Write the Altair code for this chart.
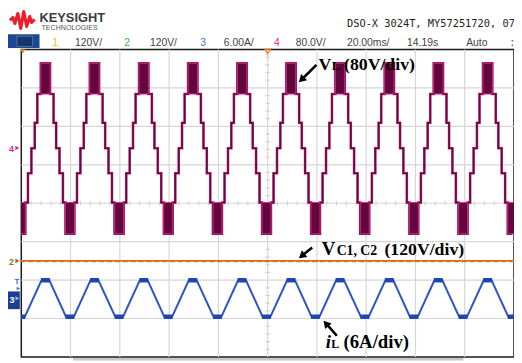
import math
import altair as alt
import pandas as pd

# ---------------- values read from the scope screen ----------------
# graticule: 10 x 20 ms horizontally, 8 divisions vertically
X_DOMAIN_MS = [-100, 100]
Y_DOMAIN_DIV = [-4, 4]
grid_t_ms = [-80, -60, -40, -20, 0, 20, 40, 60, 80]
grid_div = [-3, -2, -1, 0, 1, 2, 3]

# channel 4 : inductor voltage VL (80 V/div), ground marker at +1.43 div
VL_SCALE = 80.0
VL_GROUND_DIV = 1.43
vl_levels_v = [-178, -113, -52, 0, 53, 113, 177]          # seven output levels
vl_peak_ms = [-90.2, -70.3, -50.3, -30.4, -10.4, 9.5, 29.4, 49.4, 69.3, 89.3]
vl_step_ms = [1.9, 3.3, 4.35, 5.7, 7.1, 8.15]             # step edges after each peak
HALF_PERIOD_MS = 9.97

# channel 3 : inductor current iL (6 A/div), ground marker at -2.47 div
IL_SCALE = 6.0
IL_GROUND_DIV = -2.47
il_peak_a = 2.8
il_trough_a = -2.9
il_flat_ms = 1.6

# channels 1 & 2 : capacitor voltages (120 V/div), drawn at -1.5 div
vc1_pos_div = -1.5
vc2_pos_div = -1.51

header_texts = ["1", "120V/", "2", "120V/", "3", "6.00A/", "4", "80.0V/",
                "20.00ms/", "14.19s", "Auto"]
title_text = "DSO-X 3024T, MY57251720, 07"

# ---------------- screen geometry (page pixels) ----------------
OX, OY = 21.5, 47.5
W, H = 500, 312
PX_MS = W / 200.0
PX_DIV = H / 8.0


def to_t(px):
    return (px - OX) / PX_MS - 100.0


def to_d(py):
    return 4.0 - (py - OY) / PX_DIV


xs = alt.Scale(domain=X_DOMAIN_MS, nice=False, zero=False)
ys = alt.Scale(domain=Y_DOMAIN_DIV, nice=False, zero=False)


def X(f="t"):
    return alt.X(f"{f}:Q", scale=xs, axis=None)


def Y(f="d"):
    return alt.Y(f"{f}:Q", scale=ys, axis=None)


layers = []

# ---------------- graticule ----------------
layers.append(alt.Chart(pd.DataFrame({"t": grid_t_ms})).mark_rule(
    color="#d6d6d6", strokeWidth=1.2).encode(x=X()))
layers.append(alt.Chart(pd.DataFrame({"d": grid_div})).mark_rule(
    color="#d6d6d6", strokeWidth=1.2).encode(y=Y()))
tick_t = [v * 4 for v in range(-24, 25) if v % 5 != 0]
layers.append(alt.Chart(pd.DataFrame({"t": tick_t, "d": [-0.06] * len(tick_t),
                                      "d2": [0.06] * len(tick_t)})).mark_rule(
    color="#cfcfcf", strokeWidth=1).encode(x=X(), y=Y(), y2="d2:Q"))
tick_d = [v * 0.2 for v in range(-19, 20) if v % 5 != 0]
layers.append(alt.Chart(pd.DataFrame({"d": tick_d, "t": [-1.0] * len(tick_d),
                                      "t2": [1.0] * len(tick_d)})).mark_rule(
    color="#cfcfcf", strokeWidth=1).encode(y=Y(), x=X(), x2="t2:Q"))

# bottom scroll bar of the scope screen
layers.append(alt.Chart(pd.DataFrame({"a": [0]})).mark_rect(color="#c8c8c8").encode(
    x=alt.value(74 - OX), x2=alt.value(470 - OX),
    y=alt.value(360.5 - OY), y2=alt.value(363 - OY)))

# ---------------- VL staircase ----------------
edges = [0.0] + vl_step_ms + [HALF_PERIOD_MS]
segs = []
for j in range(6, 0, -1):
    segs.append((-edges[j + 1], -edges[j], 6 - j))
segs.append((-edges[1], edges[1], 6))
for j in range(1, 7):
    segs.append((edges[j], edges[j + 1], 6 - j))

rows = []
i = 0
for p in vl_peak_ms:
    for a, b, lv in segs:
        v = vl_levels_v[lv]
        for tt in (p + a, p + b):
            rows.append({"t": tt, "d": VL_GROUND_DIV + v / VL_SCALE, "i": i})
            i += 1
vl_df = pd.DataFrame(rows)

layers.append(alt.Chart(vl_df).mark_line(color="#c92a80", strokeWidth=2.6, clip=True)
              .encode(x=X(), y=Y(), order="i:Q"))
layers.append(alt.Chart(vl_df).mark_line(color="#660a42", strokeWidth=1.7, clip=True)
              .encode(x=X(), y=Y(), order="i:Q"))

pw = edges[1]
npw = HALF_PERIOD_MS - vl_step_ms[-1]
rect_rows = []
for p in vl_peak_ms:
    rect_rows.append({"t": p - pw, "t2": p + pw,
                      "d": VL_GROUND_DIV + vl_levels_v[5] / VL_SCALE,
                      "d2": VL_GROUND_DIV + vl_levels_v[6] / VL_SCALE})
for c in [p - HALF_PERIOD_MS for p in vl_peak_ms] + [vl_peak_ms[-1] + HALF_PERIOD_MS]:
    rect_rows.append({"t": c - npw, "t2": c + npw,
                      "d": VL_GROUND_DIV + vl_levels_v[1] / VL_SCALE,
                      "d2": VL_GROUND_DIV + vl_levels_v[0] / VL_SCALE})
layers.append(alt.Chart(pd.DataFrame(rect_rows)).mark_rect(
    color="#62063d", stroke="#cf2a84", strokeWidth=1, clip=True)
    .encode(x=X(), x2="t2:Q", y=Y(), y2="d2:Q"))

# ---------------- VC1, VC2 ----------------
layers.append(alt.Chart(pd.DataFrame({"d": [vc2_pos_div]})).mark_rule(
    color="#5fae4a", strokeWidth=2.2, strokeDash=[5, 3]).encode(y=Y()))
layers.append(alt.Chart(pd.DataFrame({"d": [vc1_pos_div]})).mark_rule(
    color="#f2661c", strokeWidth=1.6).encode(y=Y()))

# ---------------- iL ----------------
pk = IL_GROUND_DIV + il_peak_a / IL_SCALE
tr = IL_GROUND_DIV + il_trough_a / IL_SCALE
il_rows = []
k = 0
for p in vl_peak_ms:
    for tt, dd in ((p - HALF_PERIOD_MS - il_flat_ms, tr), (p - HALF_PERIOD_MS + il_flat_ms, tr),
                   (p - il_flat_ms, pk), (p + il_flat_ms, pk)):
        il_rows.append({"t": tt, "d": dd, "i": k})
        k += 1
last = vl_peak_ms[-1] + HALF_PERIOD_MS
for tt in (last - il_flat_ms, last + il_flat_ms):
    il_rows.append({"t": tt, "d": tr, "i": k})
    k += 1
layers.append(alt.Chart(pd.DataFrame(il_rows)).mark_line(
    color="#2f55c6", strokeWidth=2, clip=True).encode(x=X(), y=Y(), order="i:Q"))
flat_rows = []
for p in vl_peak_ms:
    flat_rows.append({"t": p - il_flat_ms - 0.2, "t2": p + il_flat_ms + 0.2, "d": pk})
for c in [p - HALF_PERIOD_MS for p in vl_peak_ms] + [last]:
    flat_rows.append({"t": c - il_flat_ms - 0.2, "t2": c + il_flat_ms + 0.2, "d": tr})
layers.append(alt.Chart(pd.DataFrame(flat_rows)).mark_rule(
    color="#1f45b0", strokeWidth=4.5, clip=True).encode(x=X(), x2="t2:Q", y=Y()))

# ---------------- decorations in page pixels ----------------
one = pd.DataFrame({"a": [0]})


def txt(s, px, py, size, color="#000", font="Liberation Sans", weight="normal",
        style="normal", align="left"):
    return alt.Chart(one).mark_text(
        text=s, fontSize=size, color=color, font=font, fontWeight=weight,
        fontStyle=style, align=align, baseline="alphabetic"
    ).encode(x=alt.value(px - OX), y=alt.value(py - OY))


def box(x1, y1, x2, y2, fill, stroke=None):
    kw = {"color": fill}
    if stroke:
        kw["stroke"] = stroke
        kw["strokeWidth"] = 1
    return alt.Chart(one).mark_rect(**kw).encode(
        x=alt.value(x1 - OX), x2=alt.value(x2 - OX),
        y=alt.value(y1 - OY), y2=alt.value(y2 - OY))


def sym(px, py, shape, size, color, angle=0, filled=True):
    kw = dict(shape=shape, size=size, color=color, filled=filled, opacity=1)
    if angle:
        kw["angle"] = angle
    if not filled:
        kw["strokeWidth"] = 1.3
    return alt.Chart(one).mark_point(**kw).encode(
        x=alt.value(px - OX), y=alt.value(py - OY))


def arrow(x0, y0, x1, y1):
    dx, dy = x1 - x0, y1 - y0
    n = math.hypot(dx, dy)
    ux, uy = dx / n, dy / n
    cx, cy = x1 - 4 * ux, y1 - 4 * uy
    ang = math.degrees(math.atan2(ux, -uy)) % 360
    line = alt.Chart(one).mark_rule(color="black", strokeWidth=2.6).encode(
        x=alt.value(x0 - OX), y=alt.value(y0 - OY),
        x2=alt.value(cx - OX), y2=alt.value(cy - OY))
    head = sym(cx, cy, "triangle-up", 75, "black", angle=ang)
    return [line, head]


# logo (red wave)
logo_px = [(10, 18), (13, 15), (15, 21), (18, 11), (21, 26), (24, 9), (27, 24),
           (30, 14), (32, 20), (35, 17)]
logo_df = pd.DataFrame({"t": [to_t(a) for a, b in logo_px],
                        "d": [to_d(b) for a, b in logo_px],
                        "i": list(range(len(logo_px)))})
layers.append(alt.Chart(logo_df).mark_line(color="#e8202e", strokeWidth=3.2,
                                           strokeJoin="round")
              .encode(x=X(), y=Y(), order="i:Q"))
layers.append(txt("KEYSIGHT", 40, 19.5, 13, "#3c3c3c", weight="bold"))
layers.append(txt("TECHNOLOGIES", 42, 28, 7.2, "#555555"))
layers.append(txt(title_text, 352, 25, 10.5, "#222222", font="DejaVu Sans Mono"))

# header status row
layers.append(box(8, 32, 40, 46, "#1c4796"))
layers.append(box(17, 34, 33, 44.5, "#143670", stroke="#5a6f9a"))
hx = [53, 76, 126, 152, 203, 227, 278, 300, 352, 413, 473]
hc = ["#e8c21e", "#444444", "#3cb04a", "#444444", "#4a6fe0", "#444444",
      "#e0287f", "#444444", "#444444", "#444444", "#444444"]
for s, x, c in zip(header_texts, hx, hc):
    layers.append(txt(s, x, 43.5, 10.5, c))
layers.append(txt(":", 518, 43.5, 11, "#3a6fe0", weight="bold"))

# channel markers on the left
layers.append(txt("4", 9, 151, 9, "#e0287f", weight="bold"))
layers.append(sym(17.5, 147.5, "triangle-right", 22, "#e0287f"))
layers.append(txt("2", 9, 266, 9, "#8a7a1c", weight="bold"))
layers.append(sym(17.5, 262, "triangle-right", 22, "#b0601a"))
layers.append(box(8, 293, 20, 311, "#1b3f8f"))
layers.append(txt("3", 9.5, 305, 9, "#ffffff", weight="bold"))
layers.append(sym(17.5, 300, "triangle-right", 20, "#9fb8ff"))
layers.append(txt("T", 14.5, 285, 8, "#3266d8", weight="bold"))
layers.append(sym(18.5, 290, "triangle-right", 14, "#3266d8"))

# trigger markers
layers.append(sym(23, 49.5, "triangle-down", 30, "#f08a1c"))
layers.append(sym(271.5, 49.5, "triangle-down", 32, "#f08a1c", filled=False))

# annotations
SERIF = "Liberation Serif"
layers.append(txt("V", 323, 68.5, 18, font=SERIF, weight="bold"))
layers.append(txt("L", 336.5, 68.5, 12.5, font=SERIF, weight="bold"))
layers.append(txt("(80V/div)", 349, 68.5, 18, font=SERIF, weight="bold"))
layers += arrow(321, 63, 303, 81)

layers.append(txt("V", 326.5, 256, 19, font=SERIF, weight="bold"))
layers.append(txt("C1, C2", 341.5, 256, 14, font=SERIF, weight="bold"))
layers.append(txt("(120V/div)", 390, 256, 18, font=SERIF, weight="bold"))
layers += arrow(316.7, 248.3, 303, 259.5)

layers.append(txt("i", 330.5, 350, 19, font=SERIF, weight="bold", style="italic"))
layers.append(txt("L", 336, 350, 12, font=SERIF, weight="bold"))
layers.append(txt("(6A/div)", 348.5, 350, 19, font=SERIF, weight="bold"))
layers += arrow(341.7, 338, 328, 322.5)

chart = alt.layer(*layers).properties(
    width=W, height=H,
    autosize=alt.AutoSizeParams(type="none"),
    padding={"left": OX - 8, "top": OY - 8, "right": 0, "bottom": 4},
    background="white",
).configure_view(stroke="#1a1a1a", strokeWidth=1.5)

chart.save("out.html", embed_options={"renderer": "svg", "actions": False})
